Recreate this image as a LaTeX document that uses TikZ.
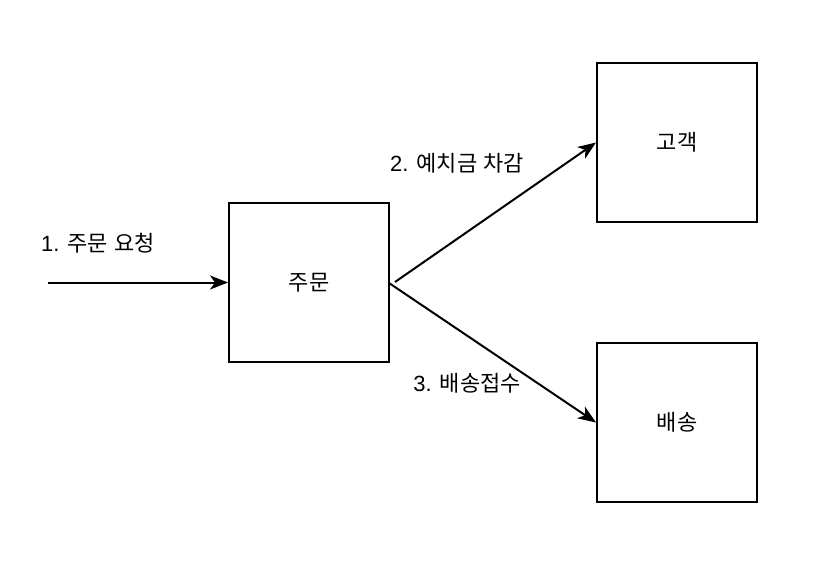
\documentclass[tikz,border=0pt]{standalone}
\usepackage{fontspec}
\setmainfont{Noto Sans CJK KR}
\newfontfamily\lat{Liberation Sans}
\usetikzlibrary{arrows.meta}
\begin{document}
\begin{tikzpicture}[x=1pt,y=-1pt,
  box/.style={draw,line width=2pt,minimum width=160pt,minimum height=159pt,inner sep=0pt,font=\fontsize{22}{24}\selectfont},
  lbl/.style={inner sep=0pt,font=\fontsize{22}{24}\selectfont},
  conn/.style={line width=2pt,-{Stealth[length=18pt,width=14pt,inset=5pt]}}]
\useasboundingbox (0,0) rectangle (820,566);
\fill[white] (0,0) rectangle (820,566);
\node[box] (order) at (309,282.5) {주문};
\node[box] (cust) at (677,142.5) {고객};
\node[box] (ship) at (677,422.5) {배송};
\coordinate (start) at (48,282.5);
\coordinate (o1) at (395,282);
\coordinate (o2) at (389,283);
\draw[conn] (start) -- (order.west);
\draw[conn] (o1) -- (cust.west);
\draw[conn] (o2) -- (ship.west);
\node[lbl] (l1) at (98,243) {{\lat 1. }주문{\lat\ }요청};
\node[lbl] (l2) at (457,163) {{\lat 2. }예치금{\lat\ }차감};
\node[lbl] (l3) at (467,383) {{\lat 3. }배송접수};
\end{tikzpicture}
\end{document}
